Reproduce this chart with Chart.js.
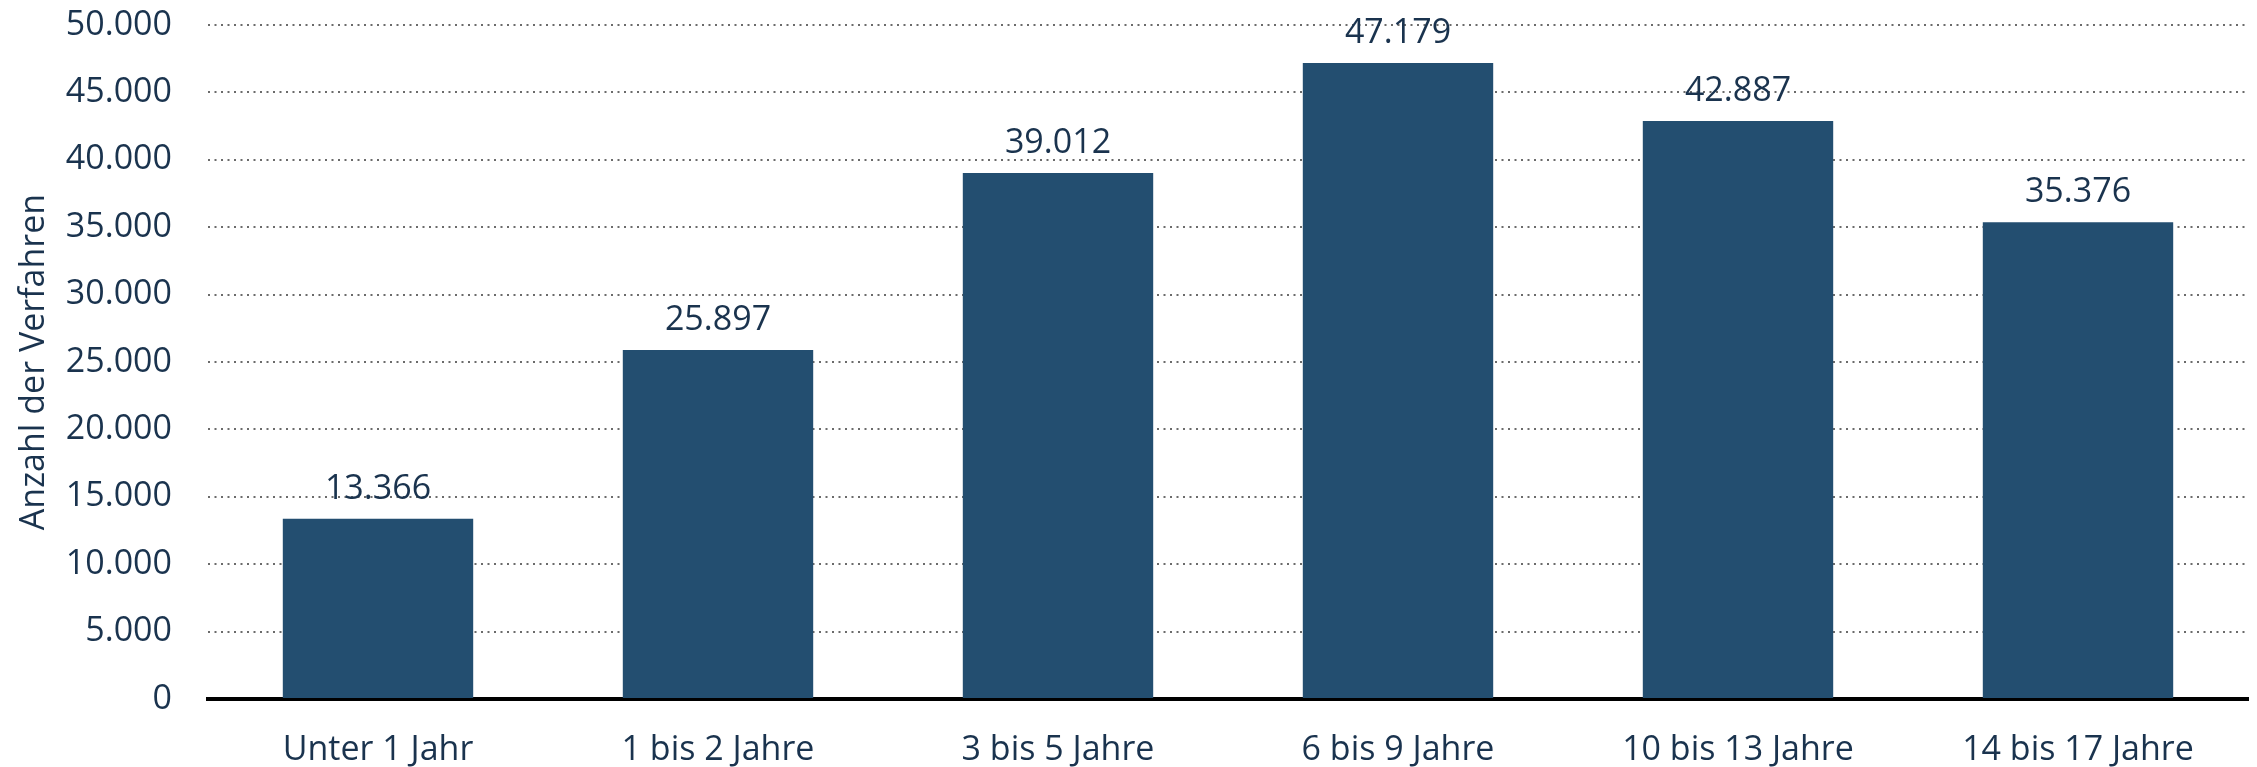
<!DOCTYPE html>
<html lang="de">
<head>
<meta charset="utf-8">
<title>Verfahren nach Alter</title>
<script src="https://cdn.jsdelivr.net/npm/chart.js@4/dist/chart.umd.min.js"></script>
<style>
  html, body { margin: 0; padding: 0; background: #fff; }
  #wrap { width: 2257px; height: 767px; position: relative; }
</style>
</head>
<body>
<div id="wrap"><canvas id="chart"></canvas></div>
<script>
const categories = ['Unter 1 Jahr', '1 bis 2 Jahre', '3 bis 5 Jahre', '6 bis 9 Jahre', '10 bis 13 Jahre', '14 bis 17 Jahre'];
const verfahren = [13366, 25897, 39012, 47179, 42887, 35376];
const yTicks = [0, 5000, 10000, 15000, 20000, 25000, 30000, 35000, 40000, 45000, 50000];
const yTitle = 'Anzahl der Verfahren';

const BAR_COLOR = '#234e70';
const TEXT_COLOR = '#1a334e';
const FONT = "'Open Sans', 'Noto Sans', sans-serif";

function fmt(v) {
  return String(v).replace(/\B(?=(\d{3})+(?!\d))/g, '.');
}

// value labels above each bar
const barLabels = {
  id: 'barLabels',
  afterDatasetsDraw(chart) {
    const { ctx } = chart;
    const meta = chart.getDatasetMeta(0);
    ctx.save();
    ctx.font = `34px ${FONT}`;
    ctx.fillStyle = TEXT_COLOR;
    ctx.textAlign = 'center';
    ctx.textBaseline = 'alphabetic';
    meta.data.forEach((bar, i) => {
      ctx.fillText(fmt(verfahren[i]), bar.x, bar.y - 20);
    });
    ctx.restore();
  },
};

Chart.defaults.font.family = FONT;
Chart.defaults.font.size = 34;
Chart.defaults.color = TEXT_COLOR;

new Chart(document.getElementById('chart'), {
  type: 'bar',
  data: {
    labels: categories,
    datasets: [{
      label: yTitle,
      data: verfahren,
      backgroundColor: BAR_COLOR,
      borderWidth: 0,
      barPercentage: 0.56,
      categoryPercentage: 1,
    }],
  },
  options: {
    responsive: true,
    maintainAspectRatio: false,
    animation: false,
    layout: { padding: { top: 25, right: 9, bottom: 0, left: 0 } },
    plugins: {
      legend: { display: false },
      tooltip: { enabled: false },
    },
    scales: {
      x: {
        // invisible tick marks used as the gap, so padding does not push the plot area
        grid: { display: false, drawTicks: true, tickLength: 31, tickColor: 'rgba(0,0,0,0)' },
        border: { display: true, color: '#000', width: 4 },
        ticks: { padding: 0, color: TEXT_COLOR, font: { size: 34 } },
        afterFit: (scale) => { scale.height = 68; },
      },
      y: {
        min: 0,
        max: 50000,
        afterBuildTicks: (scale) => { scale.ticks = yTicks.map((v) => ({ value: v })); },
        grid: {
          drawTicks: true,
          tickLength: 36,
          tickColor: 'rgba(0,0,0,0)',
          lineWidth: 2,
          color: (ctx) => (ctx.tick && ctx.tick.value === 0 ? 'rgba(0,0,0,0)' : '#6b6b6b'),
        },
        border: { display: false, dash: [2, 4.5] },
        ticks: {
          padding: 0,
          color: TEXT_COLOR,
          font: { size: 34 },
          callback: (v) => fmt(v),
        },
        title: {
          display: true,
          text: yTitle,
          color: TEXT_COLOR,
          font: { size: 34 },
          padding: { top: 14, bottom: 0 },
        },
        afterFit: (scale) => { scale.width = 208; },
      },
    },
  },
  plugins: [barLabels],
});
</script>
</body>
</html>
